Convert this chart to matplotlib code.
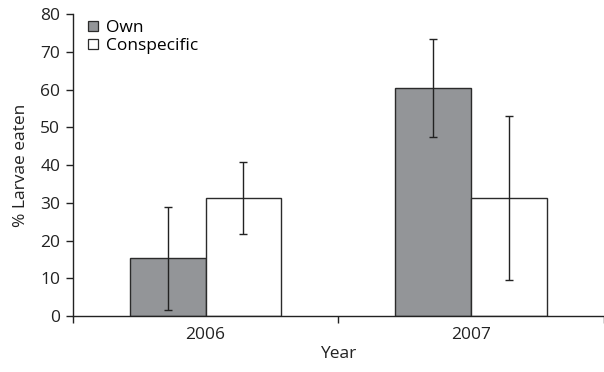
import matplotlib.pyplot as plt
from matplotlib.lines import Line2D
import numpy as np

plt.rcParams['font.family'] = ['Open Sans', 'DejaVu Sans']

years = ['2006', '2007']
own = [15.3, 60.5]
own_err = [13.6, 13.0]
consp = [31.3, 31.2]
consp_err = [9.6, 21.7]

fig = plt.figure(figsize=(6.04, 3.72), dpi=100)
ax = fig.add_axes([0.1204, 0.1505, 0.8796, 0.8111])

x = np.arange(len(years)) + 0.5
w = 1 / 3.5
edge = '#2b2b2b'
fs = 12.5
ekw = dict(ecolor='#222222', elinewidth=1.0, capsize=2.9, capthick=1.0)
ax.bar(x - w / 2, own, w, color='#939598', edgecolor=edge, linewidth=1.0,
       yerr=own_err, error_kw=ekw, label='Own')
ax.bar(x + w / 2, consp, w, color='white', edgecolor=edge, linewidth=1.0,
       yerr=consp_err, error_kw=ekw, label='Conspecific')

ax.set_xlim(0, 2)
ax.set_ylim(0, 80)
ax.set_yticks(range(0, 81, 10))
ax.set_xticks([0, 1, 2])
ax.set_xticklabels([])
ax.set_xticks(x, minor=True)
ax.set_xticklabels(years, minor=True)
ax.tick_params(axis='x', which='major', length=5, width=1, colors='#222222', direction='out')
ax.tick_params(axis='x', which='minor', length=0, pad=8, labelsize=fs, labelcolor='#222222')
ax.tick_params(axis='y', length=5, width=1, colors='#222222', labelsize=fs, pad=4)

for s in ['top', 'right']:
    ax.spines[s].set_visible(False)
for s in ['left', 'bottom']:
    ax.spines[s].set_color('#222222')
    ax.spines[s].set_linewidth(1.0)

ax.set_xlabel('Year', fontsize=fs, color='#222222', labelpad=2)
ax.set_ylabel('% Larvae eaten', fontsize=fs, color='#222222', labelpad=8)

handles = [Line2D([], [], linestyle='none', marker='s', markersize=6.5,
                  markerfacecolor='#939598', markeredgecolor=edge, markeredgewidth=0.9),
           Line2D([], [], linestyle='none', marker='s', markersize=6.5,
                  markerfacecolor='white', markeredgecolor=edge, markeredgewidth=0.9)]
ax.legend(handles, ['Own', 'Conspecific'], loc='upper left',
          bbox_to_anchor=(0.015, 1.005), frameon=False, fontsize=fs,
          handlelength=0.6, handletextpad=0.45,
          labelspacing=0.12, borderaxespad=0)

fig.savefig('out.png', dpi=100)
